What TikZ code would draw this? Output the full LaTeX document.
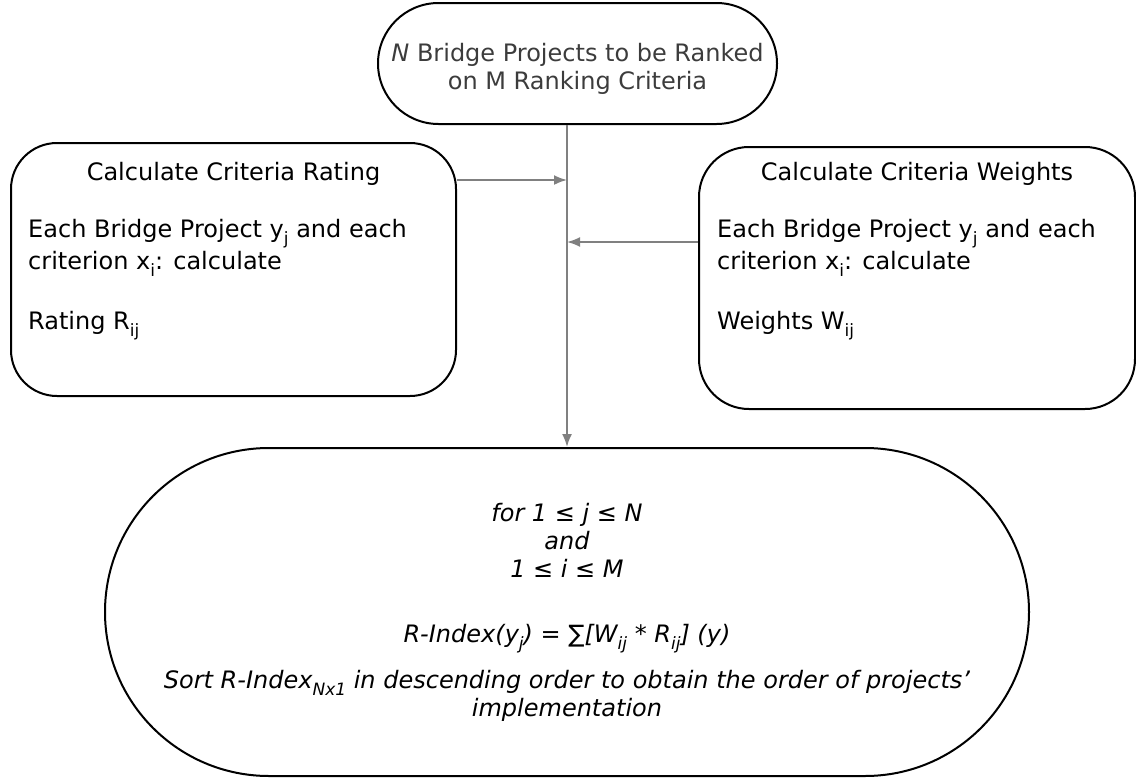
\documentclass[tikz,border=0pt]{standalone}
\usepackage{fontspec}
\setmainfont{DejaVu Sans}
\usetikzlibrary{arrows.meta}

\definecolor{linkgray}{RGB}{128,128,128}
\definecolor{toptext}{RGB}{60,60,60}
\newcommand\lowidx[1]{\raisebox{-0.55ex}{\fontsize{17}{17}\selectfont #1}}

\tikzset{
  panel/.style={draw, line width=2pt, rounded corners=46pt},
  stadium/.style={draw, line width=2pt, align=center, inner sep=0pt},
  link/.style={draw=linkgray, line width=1.8pt, -{Latex[length=13pt,width=10pt]}}
}

\begin{document}
\begin{tikzpicture}[x=1pt,y=-1pt, font=\fontsize{24}{28}\selectfont]
		\useasboundingbox (0,0) rectangle (1136,779);
		% start and end
		\node[stadium, rounded corners=60.5pt, minimum width=399pt, minimum height=121pt] (proj) at (577.5,63.5) {};
		\node[align=center, text=toptext] (projtext) at (577.5,69) {\textit{N} Bridge Projects to be Ranked\\on M Ranking Criteria};
		\node[stadium, rounded corners=164pt, minimum width=924pt, minimum height=328pt, font=\fontsize{24}{28}\itshape] (index) at (567,612) {for 1 ≤ j ≤ N\\and\\1 ≤ i ≤ M\\[37pt]R-Index(y\lowidx{j}) = ∑[W\lowidx{ij} * R\lowidx{ij}] (y)\\[16pt]Sort R-Index\lowidx{Nx1} in descending order to obtain the order of projects'\\implementation};
		% the two side boxes
		\node[panel, minimum width=445pt, minimum height=253pt] (rating) at (233.5,269.5) {};
		\node (ratingtitle) at (233.5,174) {Calculate Criteria Rating};
		\node[anchor=north west, align=left, inner sep=0pt, font=\fontsize{24}{32}\selectfont] (ratingtext) at (28,219) {Each Bridge Project y\lowidx{j} and each\\criterion x\lowidx{i}: calculate\\[28pt]Rating R\lowidx{ij}};
		\node[panel, rounded corners=50pt, minimum width=436pt, minimum height=262pt] (weights) at (917,278) {};
		\node (weightstitle) at (917,174) {Calculate Criteria Weights};
		\node[anchor=north west, align=left, inner sep=0pt, font=\fontsize{24}{32}\selectfont] (weightstext) at (717,219) {Each Bridge Project y\lowidx{j} and each\\criterion x\lowidx{i}: calculate\\[28pt]Weights W\lowidx{ij}};
		% connectors
		\coordinate (ratein) at (567,180);
		\coordinate (weightin) at (567,242);
		\draw[link] (proj.south -| index.north) -- (index.north);
		\draw[link] (rating.east |- ratein) -- (ratein);
		\draw[link] (weights.west |- weightin) -- (weightin);
		\end{tikzpicture}
\end{document}
